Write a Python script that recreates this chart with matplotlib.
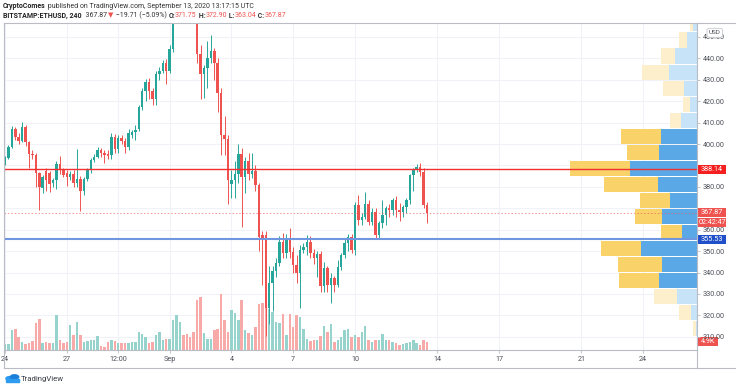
import matplotlib
matplotlib.use("Agg")
import matplotlib.pyplot as plt
import matplotlib.transforms as mtransforms
from matplotlib.patches import Rectangle, Circle, FancyBboxPatch
from matplotlib.lines import Line2D
import numpy as np

plt.rcParams['font.family'] = ['Roboto', 'DejaVu Sans']

# BITSTAMP:ETHUSD 4h candles, first bar Aug 24 00:00 UTC
opens = [391.0, 393.6, 398.8, 407.0, 403.2, 401.6, 408.1, 400.8, 395.4, 395.0,
         386.5, 379.5, 387.5, 386.5, 382.0, 383.0, 390.8, 387.7, 386.5, 384.6,
         386.2, 382.0, 383.8, 378.0, 383.5, 387.7, 392.3, 394.0, 397.0, 395.7,
         395.5, 395.0, 403.5, 397.7, 403.0, 401.6, 398.5, 404.0, 405.5, 407.0,
         417.4, 424.8, 429.1, 424.8, 420.9, 432.5, 434.1, 437.9, 434.1, 444.2,
         462.0, 471.0, 480.0, 476.0, 472.0, 468.0, 462.0, 441.8, 432.7, 435.5,
         440.0, 443.4, 438.0, 424.0, 404.0, 402.4, 381.5, 383.4, 386.2, 395.4,
         384.6, 391.9, 385.8, 387.5, 380.7, 357.5, 357.5, 323.5, 335.0, 340.5,
         344.4, 354.4, 349.0, 355.2, 349.5, 343.6, 339.7, 350.6, 352.0, 354.4,
         349.0, 346.7, 348.5, 333.6, 342.0, 334.3, 337.4, 334.3, 342.8, 348.2,
         353.6, 356.7, 350.5, 371.4, 364.5, 366.0, 372.2, 363.7, 368.3, 357.5,
         362.9, 366.8, 369.9, 369.1, 373.8, 369.1, 368.3, 370.7, 373.9, 385.4,
         387.7, 389.2, 386.9, 371.75]
highs = [394.6, 399.5, 408.5, 408.0, 405.0, 410.5, 409.0, 401.5, 397.0, 396.0,
         387.0, 385.5, 389.0, 387.5, 384.0, 392.0, 394.5, 389.0, 388.0, 387.5,
         388.0, 397.7, 385.0, 384.5, 389.0, 393.5, 395.5, 398.5, 398.0, 397.0,
         397.0, 405.0, 404.5, 404.0, 404.0, 403.0, 407.0, 406.5, 409.0, 418.0,
         426.0, 430.5, 431.0, 426.0, 434.0, 436.0, 439.0, 439.5, 446.0, 465.0,
         473.0, 482.0, 488.5, 481.0, 476.0, 471.0, 464.0, 446.0, 437.0, 448.0,
         451.0, 445.0, 440.0, 426.0, 413.0, 404.0, 388.0, 392.0, 400.0, 398.0,
         394.0, 396.0, 396.0, 390.0, 382.0, 359.5, 359.5, 343.0, 343.0, 347.0,
         357.0, 358.5, 358.0, 361.0, 352.0, 348.0, 353.0, 354.0, 357.5, 357.0,
         351.0, 350.0, 350.0, 345.0, 343.0, 340.0, 338.5, 346.0, 349.0, 356.0,
         358.0, 358.0, 373.0, 376.0, 368.0, 377.6, 374.0, 370.0, 370.0, 364.0,
         374.0, 371.0, 372.0, 375.0, 375.5, 372.5, 371.5, 375.0, 386.0, 389.0,
         390.5, 391.0, 389.0, 372.90]
lows = [390.0, 393.0, 398.0, 402.0, 400.0, 401.0, 399.0, 389.0, 393.0, 380.0,
        369.0, 377.0, 378.0, 377.5, 380.0, 379.0, 386.0, 384.5, 380.5, 383.0,
        380.0, 380.0, 368.8, 376.0, 382.5, 386.5, 391.5, 393.5, 394.0, 391.0,
        393.0, 393.0, 396.0, 396.0, 400.0, 396.0, 397.0, 403.0, 402.0, 406.0,
        416.0, 420.0, 421.0, 418.0, 418.0, 430.0, 433.0, 428.0, 433.0, 443.0,
        459.0, 468.0, 474.0, 469.0, 463.0, 458.0, 438.0, 421.0, 421.5, 426.0,
        438.0, 430.0, 415.0, 395.0, 395.0, 372.0, 375.0, 375.0, 382.0, 361.4,
        377.0, 383.0, 384.0, 378.0, 350.0, 334.0, 310.5, 316.0, 322.0, 338.0,
        343.0, 347.0, 347.0, 347.0, 340.0, 335.0, 323.5, 349.0, 348.0, 347.0,
        344.0, 338.0, 331.0, 331.0, 331.0, 325.8, 331.0, 333.0, 341.0, 347.0,
        350.0, 349.0, 348.0, 362.0, 362.0, 365.0, 362.0, 362.0, 356.0, 356.0,
        361.0, 362.0, 366.0, 367.0, 366.0, 364.0, 366.0, 368.0, 372.0, 378.0,
        387.0, 385.0, 370.0, 363.04]
closes = [393.6, 398.8, 407.0, 403.2, 401.6, 408.1, 400.8, 395.4, 394.9, 386.5,
          380.0, 384.6, 383.0, 381.5, 383.0, 390.8, 387.7, 385.5, 384.6, 386.2,
          382.0, 383.8, 378.0, 383.5, 387.7, 392.3, 394.0, 397.0, 395.7, 395.0,
          394.6, 403.5, 397.7, 402.8, 401.6, 398.5, 405.0, 405.5, 406.5, 417.4,
          424.8, 429.1, 424.8, 420.9, 432.5, 434.1, 437.9, 434.1, 444.2, 462.0,
          471.0, 480.0, 476.0, 472.0, 468.0, 462.0, 441.8, 432.7, 435.5, 440.0,
          443.4, 438.0, 424.0, 404.0, 402.4, 383.0, 383.4, 386.2, 395.4, 384.6,
          391.9, 385.8, 387.5, 380.7, 356.7, 356.0, 323.5, 335.0, 340.5, 344.4,
          354.4, 349.0, 355.2, 349.5, 343.6, 339.7, 350.6, 352.0, 354.4, 349.0,
          346.7, 348.5, 333.6, 342.0, 334.3, 337.4, 334.3, 342.8, 348.2, 353.6,
          356.7, 350.5, 371.4, 364.5, 366.0, 372.2, 363.7, 368.3, 357.5, 362.9,
          366.8, 369.9, 369.1, 373.8, 369.1, 368.3, 370.7, 373.9, 385.4, 387.7,
          389.2, 386.9, 371.75, 367.87]
# volume, thousands
volumes = [3.8, 3.8, 12.8, 13.4, 8.1, 4.9, 3.8, 4.3, 5.6, 17.1,
           19.8, 4.3, 4.9, 4.3, 4.3, 21.8, 6.4, 4.3, 4.9, 15.4,
           9.0, 17.3, 9.2, 4.9, 5.6, 6.4, 6.4, 8.5, 2.1, 1.7,
           4.9, 6.4, 5.6, 4.3, 4.3, 4.3, 4.3, 4.9, 4.5, 11.3,
           10.2, 8.1, 4.3, 4.9, 9.2, 11.3, 6.4, 7.0, 7.0, 19.2,
           22.4, 17.7, 9.2, 9.8, 8.1, 11.3, 32.0, 33.7, 10.7, 7.0,
           7.0, 12.8, 13.4, 35.4, 18.8, 11.3, 25.2, 23.5, 19.2, 31.6,
           12.8, 10.7, 9.2, 14.5, 29.4, 29.9, 41.2, 26.2, 24.1, 17.7,
           17.1, 23.0, 9.2, 22.6, 14.5, 22.0, 20.9, 13.4, 7.0, 5.6,
           6.0, 6.0, 8.5, 14.9, 11.3, 16.6, 4.9, 6.4, 8.1, 12.4,
           13.4, 8.1, 9.2, 8.1, 11.3, 14.9, 6.0, 4.9, 6.0, 6.4,
           10.2, 6.0, 6.0, 4.9, 4.3, 2.8, 3.8, 4.3, 4.9, 6.0,
           4.3, 2.8, 6.0, 4.9]

# visible range volume profile, rows from the bottom up
vp_low = 310.0
vp_step = 7.49
vp_up = [1.3, 5.7, 20.3, 38.0, 34.7, 56.3, 15.3, 34.7, 26.7, 39.0,
         66.7, 38.0, 35.7, 16.3, 7.3, 13.3, 28.0, 22.0, 10.0, 4.0]
vp_down = [2.7, 12.3, 23.0, 40.3, 44.3, 40.0, 20.3, 27.7, 30.7, 54.0,
           60.7, 32.0, 40.7, 11.0, 6.7, 20.7, 27.0, 14.3, 8.0, 2.7]
va_rows = (3, 12)

resistance = 388.14
support = 355.53
last_price = 367.87

tick_pos = [0, 18, 33, 48, 66, 84, 102, 126, 144, 168, 186]
tick_labels = ['24', '27', '12:00', 'Sep', '4', '7', '10', '14', '17', '21', '24']
price_ticks = [310, 320, 330, 340, 350, 360, 370, 380, 390, 400, 410, 420, 430, 440, 450]
hidden_ticks = [370, 390]  # covered by the price tags

GREEN = '#26a69a'
RED = '#ef5350'
VGREEN = '#97d3cd'
VRED = '#f7aaa8'
BLUE_VA, BLUE_OUT = '#5aa9e6', '#c6e3f7'
YEL_VA, YEL_OUT = '#f9d26a', '#fdefcb'
GRID = '#f0f2f7'
FRAME = '#b9bcc5'
TXT = '#4c4f58'

W, H, DPI = 736, 386, 100
fig = plt.figure(figsize=(W / DPI, H / DPI), dpi=DPI)
fig.patch.set_facecolor('white')

L, R, T, B = 4, 697, 23, 349.5
rect = [L / W, 1 - B / H, (R - L) / W, (B - T) / H]

ax_vol = fig.add_axes(rect)
ax = fig.add_axes(rect, sharex=ax_vol)
ax_vp = fig.add_axes(rect, sharey=ax)
for a in (ax, ax_vp):
    a.patch.set_alpha(0)
for a in (ax_vol, ax, ax_vp):
    for s in a.spines.values():
        s.set_visible(False)

ax_vol.set_xlim(-0.29, 201.7)
ax.set_ylim(304.05, 456.5)
ax_vol.set_ylim(0, 209)
ax_vp.set_xlim(R - L, 0)

# grid
hgrid = mtransforms.blended_transform_factory(ax_vol.transAxes, ax.transData)
for p in price_ticks:
    ax_vol.plot([0, 1], [p, p], color=GRID, lw=0.8, transform=hgrid, zorder=0)
for t in tick_pos:
    ax_vol.axvline(t, color=GRID, lw=0.8, zorder=0)

# volume
idx = np.arange(len(opens))
o, h, l, c = (np.array(v) for v in (opens, highs, lows, closes))
up = c >= o
ax_vol.bar(idx, volumes, width=0.72, color=np.where(up, VGREEN, VRED), linewidth=0, zorder=1)

# candles
col = np.where(up, GREEN, RED)
ax.vlines(idx, l, h, colors=col, lw=0.7)
body_lo = np.minimum(o, c)
body_h = np.maximum(np.abs(c - o), 0.4)
ax.bar(idx, body_h, bottom=body_lo, width=0.72, color=col, linewidth=0)

# volume profile
rows = np.arange(len(vp_up))
centers = vp_low + (rows + 0.5) * vp_step
in_va = (rows >= va_rows[0]) & (rows <= va_rows[1])
ax_vp.barh(centers, vp_up, height=vp_step - 0.45, left=0,
           color=np.where(in_va, BLUE_VA, BLUE_OUT), linewidth=0)
ax_vp.barh(centers, vp_down, height=vp_step - 0.45, left=vp_up,
           color=np.where(in_va, YEL_VA, YEL_OUT), linewidth=0)

# horizontal levels
ax_vp.axhline(last_price, color=RED, lw=0.7, ls=(0, (1.5, 2)), alpha=0.6)
ax_vp.axhline(resistance, color='#f23030', lw=1.0)
ax_vp.axhline(support, color='#7196e0', lw=1.5)

# axes ticks
ax.yaxis.tick_right()
ax.set_yticks(price_ticks)
ax.set_yticklabels(['' if p in hidden_ticks else f'{p:.2f}' for p in price_ticks])
ax.tick_params(axis='y', length=2.2, width=0.6, color=FRAME, labelsize=5.2,
               labelcolor=TXT, pad=2)
ax.tick_params(axis='x', bottom=False, labelbottom=False)
ax_vp.yaxis.set_visible(False)
ax_vp.xaxis.set_visible(False)
ax_vol.yaxis.set_visible(False)
ax_vol.set_xticks(tick_pos)
ax_vol.set_xticklabels(tick_labels)
ax_vol.tick_params(axis='x', length=2.5, width=0.6, color=FRAME, labelsize=5.2,
                   labelcolor=TXT, pad=2.5)


# frame
def fline(x0, y0, x1, y1):
    fig.add_artist(Line2D([x0 / W, x1 / W], [1 - y0 / H, 1 - y1 / H],
                          color=FRAME, lw=0.8))


fline(L, T, W - 1, T)
fline(L, T, L, 368)
fline(R, T, R, 368)
fline(L, B, R, B)
fline(L, 368, W - 1, 368)

# price tags on the axis
anchor = mtransforms.blended_transform_factory(fig.transFigure, ax.transData)


def tag(target, anchor_tr, value, label, fc, w=29, hgt=9, dy=0):
    tr = mtransforms.ScaledTranslation(R / W, value, anchor_tr) + \
        mtransforms.Affine2D().translate(0, -dy)
    target.add_artist(Rectangle((0, -hgt / 2), w, hgt, transform=tr, facecolor=fc,
                                edgecolor='none', clip_on=False, zorder=5))
    target.text(w / 2 + 0.5, 0, label, transform=tr, ha='center', va='center',
                fontsize=5.2, color='white', clip_on=False, zorder=6)


tag(ax_vp, anchor, resistance, f'{resistance:.2f}', '#f51f1f')
tag(ax_vp, anchor, last_price, f'{last_price:.2f}', RED)
tag(ax_vp, anchor, last_price, '02:42:47', RED, dy=10)
tag(ax_vp, anchor, support, f'{support:.2f}', '#1f4fc9')
vol_anchor = mtransforms.blended_transform_factory(fig.transFigure, ax_vol.transData)
tag(ax_vol, vol_anchor, volumes[-1], f'{volumes[-1]:.1f}K', RED, w=21)

# USD badge
fig.add_artist(FancyBboxPatch((707 / W, 1 - 37.3 / H), 15.5 / W, 9 / H,
                              boxstyle='round,pad=0,rounding_size=0.004',
                              facecolor='white', edgecolor='#c4c7cf', lw=0.6,
                              transform=fig.transFigure, zorder=10))
fig.text(714.8 / W, 1 - 32.8 / H, 'USD', fontsize=4.6, color=TXT, ha='center',
         va='center', zorder=11)

# header
renderer = fig.canvas.get_renderer()


def runs(x, y, parts, size=5.0):
    for s, weight, color in parts:
        t = fig.text(x / W, 1 - y / H, s, fontsize=size, fontweight=weight,
                     color=color, ha='left', va='center')
        x += t.get_window_extent(renderer).width
    return x


DARK = '#333333'
runs(3, 6, [('CryptoComes', 'bold', '#222222'),
            (' published on TradingView.com, September 13, 2020 13:17:15 UTC', 'normal', DARK)])
runs(3, 15.7, [('BITSTAMP:ETHUSD, 240', 'bold', '#222222'),
               ('  367.87 ', 'normal', DARK), ('▼', 'normal', RED),
               (' \u221219.71 (\u22125.09%) ', 'normal', DARK),
               ('O:', 'bold', DARK), ('371.75', 'normal', RED),
               (' H:', 'bold', DARK), ('372.90', 'normal', RED),
               (' L:', 'bold', DARK), ('363.04', 'normal', RED),
               (' C:', 'bold', DARK), ('367.87', 'normal', RED)])

# TradingView logo
fig.add_artist(Circle((9.5 / W, 1 - 378.5 / H), 3.6 / W, color='#2d9bf0',
                      transform=fig.transFigure))
fig.add_artist(Circle((14.5 / W, 1 - 377 / H), 4.2 / W, color='#1a7fd9',
                      transform=fig.transFigure))
fig.add_artist(Rectangle((6 / W, 1 - 382 / H), 12.5 / W, 3 / H, color='#2d9bf0',
                         transform=fig.transFigure))
fig.text(21 / W, 1 - 378.5 / H, 'TradingView', fontsize=5.6, color='#3a3d45',
         ha='left', va='center')

fig.savefig('out.png', dpi=DPI, facecolor='white')
